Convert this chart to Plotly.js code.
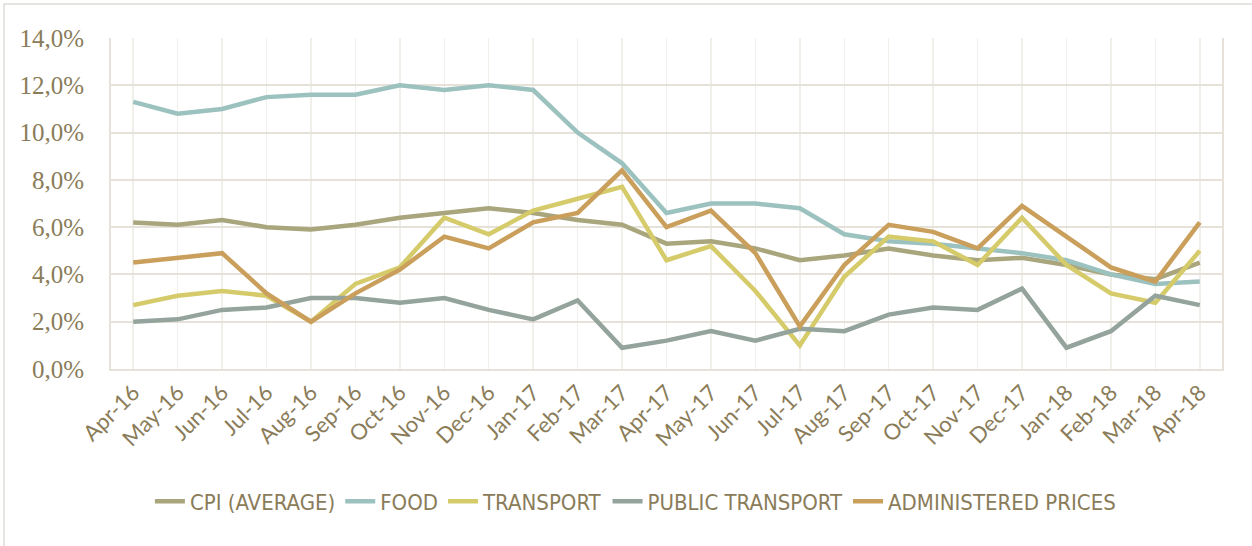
<!DOCTYPE html>
<html>
<head>
<meta charset="utf-8">
<script src="https://cdn.plot.ly/plotly-3.0.1.min.js"></script>
<style>html,body{margin:0;padding:0;background:#fff;}#chart{width:1252px;height:546px;}</style>
</head>
<body>
<div id="chart"></div>
<script>
const months = ["Apr-16","May-16","Jun-16","Jul-16","Aug-16","Sep-16","Oct-16","Nov-16","Dec-16","Jan-17","Feb-17","Mar-17","Apr-17","May-17","Jun-17","Jul-17","Aug-17","Sep-17","Oct-17","Nov-17","Dec-17","Jan-18","Feb-18","Mar-18","Apr-18"];
const cpiAverage = [6.2, 6.1, 6.3, 6.0, 5.9, 6.1, 6.4, 6.6, 6.8, 6.6, 6.3, 6.1, 5.3, 5.4, 5.1, 4.6, 4.8, 5.1, 4.8, 4.6, 4.7, 4.4, 4.0, 3.8, 4.5];
const food = [11.3, 10.8, 11.0, 11.5, 11.6, 11.6, 12.0, 11.8, 12.0, 11.8, 10.0, 8.7, 6.6, 7.0, 7.0, 6.8, 5.7, 5.4, 5.3, 5.1, 4.9, 4.6, 4.0, 3.6, 3.7];
const transport = [2.7, 3.1, 3.3, 3.1, 2.0, 3.6, 4.3, 6.4, 5.7, 6.7, 7.2, 7.7, 4.6, 5.2, 3.3, 1.0, 3.9, 5.6, 5.4, 4.4, 6.4, 4.4, 3.2, 2.8, 5.0];
const publicTransport = [2.0, 2.1, 2.5, 2.6, 3.0, 3.0, 2.8, 3.0, 2.5, 2.1, 2.9, 0.9, 1.2, 1.6, 1.2, 1.7, 1.6, 2.3, 2.6, 2.5, 3.4, 0.9, 1.6, 3.1, 2.7];
const administeredPrices = [4.5, 4.7, 4.9, 3.2, 2.0, 3.2, 4.2, 5.6, 5.1, 6.2, 6.6, 8.4, 6.0, 6.7, 4.9, 1.8, 4.4, 6.1, 5.8, 5.1, 6.9, 5.6, 4.3, 3.7, 6.2];
const seriesNames = ["CPI (AVERAGE)", "FOOD", "TRANSPORT", "PUBLIC TRANSPORT", "ADMINISTERED PRICES"];
const seriesValues = [cpiAverage, food, transport, publicTransport, administeredPrices];
const seriesColors = ["#A9A57D", "#9CC2C0", "#D5CB6A", "#94A49C", "#C99F5B"];

const textColor = "#8A7C59";
const gridDark = "#E6E2D9";
const gridLight = "#F1EFE9";

const traces = seriesNames.map((name, i) => ({
  type: "scatter", mode: "lines", name: name,
  x: months, y: seriesValues[i],
  line: {color: seriesColors[i], width: 4.5},
  hoverinfo: "x+y+name"
}));

const layout = {
  width: 1252, height: 546,
  paper_bgcolor: "#fff", plot_bgcolor: "#fff",
  margin: {l: 111, r: 30, t: 38, b: 177},
  showlegend: true,
  legend: {
    orientation: "h", x: 0.472, xanchor: "center", y: -0.40, yanchor: "middle",
    font: {family: "DejaVu Sans Condensed, Liberation Sans Narrow, sans-serif", size: 22, color: textColor},
    itemwidth: 30, bgcolor: "rgba(0,0,0,0)"
  },
  xaxis: {
    type: "category", categoryorder: "array", categoryarray: months,
    range: [-0.5, months.length - 0.5],
    showgrid: true, gridcolor: gridLight, gridwidth: 1.5,
    ticks: "", tickangle: -45,
    tickfont: {family: "Lato, Open Sans, sans-serif", size: 22, color: textColor},
    showline: true, linecolor: gridDark, linewidth: 2,
    zeroline: false, fixedrange: true
  },
  xaxis2: {
    type: "category", categoryorder: "array", categoryarray: months,
    overlaying: "x", anchor: "y", side: "bottom",
    range: [-0.5, months.length - 0.5],
    tickson: "boundaries", ticks: "outside", ticklen: 8, tickwidth: 2, tickcolor: gridDark,
    showgrid: true, gridcolor: gridDark, gridwidth: 2,
    showticklabels: false, showline: false, zeroline: false, fixedrange: true
  },
  yaxis: {
    range: [0, 14], dtick: 2, tick0: 0,
    tickformat: ".1f", ticksuffix: "%",
    showgrid: true, gridcolor: gridDark, gridwidth: 2,
    ticks: "", ticklabelstandoff: 20,
    tickfont: {family: "Liberation Serif, Times New Roman, serif", size: 25, color: textColor},
    showline: true, linecolor: gridDark, linewidth: 2, mirror: true,
    zeroline: false, fixedrange: true
  },
  separators: ",.",
  shapes: [{
    type: "rect", xref: "paper", yref: "paper",
    x0: -0.0963, x1: 1.2, y0: -1.0, y1: 1.1027,
    line: {color: "#DCDCD8", width: 1.5}, fillcolor: "rgba(0,0,0,0)", layer: "below"
  }]
};

Plotly.newPlot("chart", traces, layout, {displayModeBar: false, staticPlot: true});
</script>
</body>
</html>
